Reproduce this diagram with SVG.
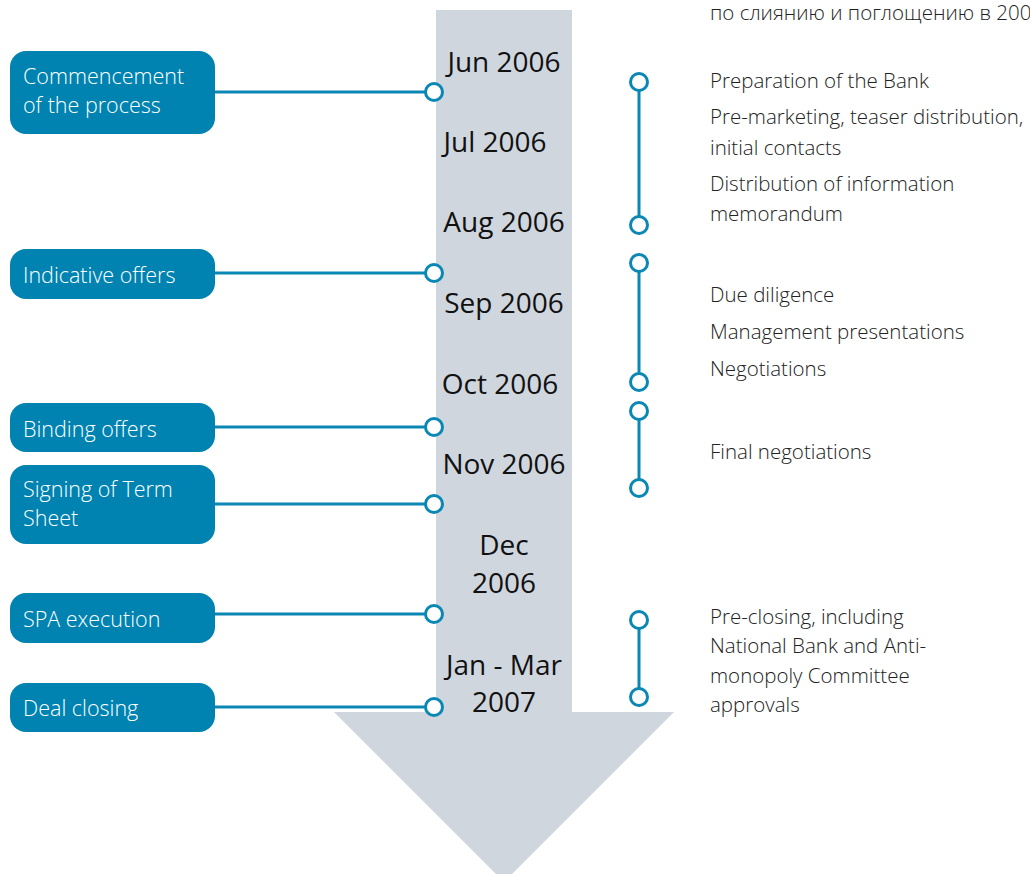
<svg xmlns="http://www.w3.org/2000/svg" width="1030" height="874" viewBox="0 0 1030 874">
  <style>
    .box { fill: #0083B1; }
    .box-text { font-family: "Open Sans", "Liberation Sans", sans-serif; font-weight: 300; font-size: 21.5px; fill: #ffffff; }
    .date { font-family: "Open Sans", "Liberation Sans", sans-serif; font-weight: 400; font-size: 28px; fill: #111111; text-anchor: middle; }
    .note { font-family: "Open Sans", "Liberation Sans", sans-serif; font-weight: 300; font-size: 20.5px; fill: #222222; }
    .link { stroke: #0A87B4; stroke-width: 3; fill: none; }
    .dot { fill: #ffffff; stroke: #0A87B4; stroke-width: 3; }
  </style>

  <!-- time arrow -->
  <g id="time-arrow">
    <path d="M436 10 H572 V712 H674 L504 882 L334 712 H436 Z" fill="#CFD6DE"/>
  </g>

  <!-- month labels along the arrow -->
  <g id="dates">
    <text class="date" x="504" y="72">Jun 2006</text>
    <text class="date" x="495" y="152">Jul 2006</text>
    <text class="date" x="504" y="232">Aug 2006</text>
    <text class="date" x="504" y="313">Sep 2006</text>
    <text class="date" x="500" y="394">Oct 2006</text>
    <text class="date" x="504" y="474">Nov 2006</text>
    <text class="date" x="504" y="555">Dec</text>
    <text class="date" x="504" y="593">2006</text>
    <text class="date" x="504" y="675">Jan - Mar</text>
    <text class="date" x="504" y="712">2007</text>
  </g>

  <!-- connectors from milestones to the arrow -->
  <g id="connectors">
    <line class="link" x1="214" y1="92" x2="434" y2="92"/>
    <line class="link" x1="214" y1="273" x2="434" y2="273"/>
    <line class="link" x1="214" y1="427" x2="434" y2="427"/>
    <line class="link" x1="214" y1="504" x2="434" y2="504"/>
    <line class="link" x1="214" y1="614" x2="434" y2="614"/>
    <line class="link" x1="214" y1="707" x2="434" y2="707"/>
    <circle class="dot" cx="434" cy="92" r="8.5"/>
    <circle class="dot" cx="434" cy="273" r="8.5"/>
    <circle class="dot" cx="434" cy="427" r="8.5"/>
    <circle class="dot" cx="434" cy="504" r="8.5"/>
    <circle class="dot" cx="434" cy="614" r="8.5"/>
    <circle class="dot" cx="434" cy="707" r="8.5"/>

    <!-- phase brackets -->
    <line class="link" x1="639" y1="82" x2="639" y2="225"/>
    <circle class="dot" cx="639" cy="82" r="8.5"/>
    <circle class="dot" cx="639" cy="225" r="8.5"/>
    <line class="link" x1="639" y1="263" x2="639" y2="382"/>
    <circle class="dot" cx="639" cy="263" r="8.5"/>
    <circle class="dot" cx="639" cy="382" r="8.5"/>
    <line class="link" x1="639" y1="411" x2="639" y2="488"/>
    <circle class="dot" cx="639" cy="411" r="8.5"/>
    <circle class="dot" cx="639" cy="488" r="8.5"/>
    <line class="link" x1="639" y1="620" x2="639" y2="697"/>
    <circle class="dot" cx="639" cy="620" r="8.5"/>
    <circle class="dot" cx="639" cy="697" r="8.5"/>
  </g>

  <!-- milestone nodes -->
  <g id="commencement">
    <rect class="box" x="10" y="51" width="205" height="83" rx="16"/>
    <text class="box-text" x="23" y="84">Commencement</text>
    <text class="box-text" x="23" y="113">of the process</text>
  </g>
  <g id="indicative-offers">
    <rect class="box" x="10" y="249" width="205" height="50" rx="16"/>
    <text class="box-text" x="23" y="283">Indicative offers</text>
  </g>
  <g id="binding-offers">
    <rect class="box" x="10" y="403" width="205" height="49" rx="16"/>
    <text class="box-text" x="23" y="437">Binding offers</text>
  </g>
  <g id="term-sheet">
    <rect class="box" x="10" y="465" width="205" height="79" rx="16"/>
    <text class="box-text" x="23" y="497">Signing of Term</text>
    <text class="box-text" x="23" y="526">Sheet</text>
  </g>
  <g id="spa-execution">
    <rect class="box" x="10" y="593" width="205" height="50" rx="16"/>
    <text class="box-text" x="23" y="627">SPA execution</text>
  </g>
  <g id="deal-closing">
    <rect class="box" x="10" y="683" width="205" height="49" rx="16"/>
    <text class="box-text" x="23" y="716">Deal closing</text>
  </g>

  <!-- phase descriptions -->
  <g id="heading">
    <text class="note" x="710" y="20">по слиянию и поглощению в 200</text>
  </g>
  <g id="phase-preparation">
    <text class="note" x="710" y="88">Preparation of the Bank</text>
    <text class="note" x="710" y="124">Pre-marketing, teaser distribution,</text>
    <text class="note" x="710" y="155">initial contacts</text>
    <text class="note" x="710" y="191">Distribution of information</text>
    <text class="note" x="710" y="221">memorandum</text>
  </g>
  <g id="phase-diligence">
    <text class="note" x="710" y="302">Due diligence</text>
    <text class="note" x="710" y="339">Management presentations</text>
    <text class="note" x="710" y="376">Negotiations</text>
  </g>
  <g id="phase-final">
    <text class="note" x="710" y="459">Final negotiations</text>
  </g>
  <g id="phase-closing">
    <text class="note" x="710" y="624">Pre-closing, including</text>
    <text class="note" x="710" y="653">National Bank and Anti-</text>
    <text class="note" x="710" y="683">monopoly Committee</text>
    <text class="note" x="710" y="712">approvals</text>
  </g>
</svg>
